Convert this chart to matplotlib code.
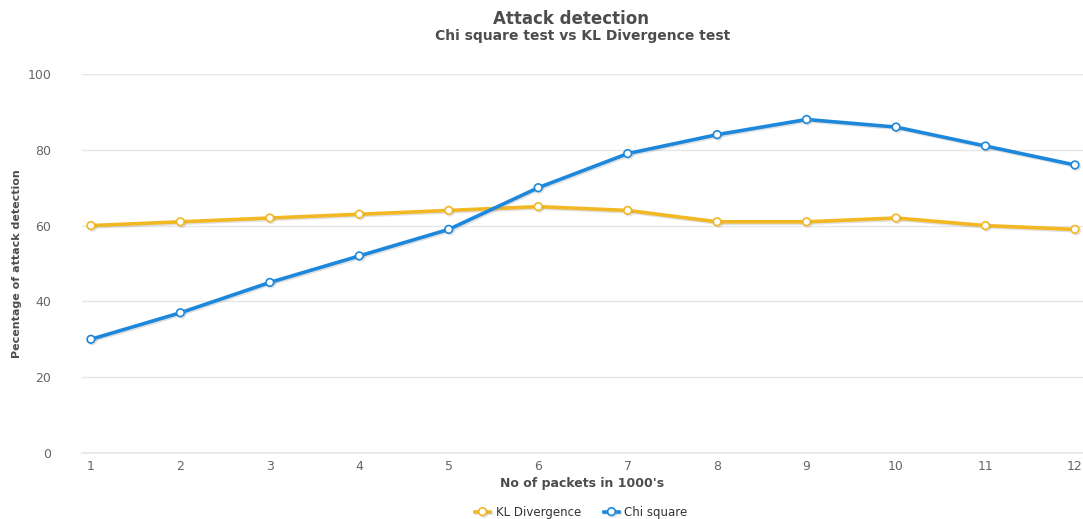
import matplotlib.pyplot as plt
import matplotlib.patheffects as pe

packets = [1, 2, 3, 4, 5, 6, 7, 8, 9, 10, 11, 12]
kl_divergence = [60, 61, 62, 63, 64, 65, 64, 61, 61, 62, 60, 59]
chi_square = [30, 37, 45, 52, 59, 70, 79, 84, 88, 86, 81, 76]
y_ticks = [0, 20, 40, 60, 80, 100]

kl_color = '#f2b824'
chi_color = '#1d88db'
text_color = '#4d4d4d'

fig = plt.figure(figsize=(10.83, 5.19), dpi=100)
ax = fig.add_axes([0.0757, 0.1272, 0.9243, 0.7302])

shadow = [pe.SimpleLineShadow(offset=(1, -1), shadow_color='#999999', alpha=0.3),
          pe.Normal()]

ax.plot(packets, kl_divergence, color=kl_color, lw=2.6, marker='o', ms=5.5,
        mfc='white', mec=kl_color, mew=1.2, label='KL Divergence',
        path_effects=shadow, zorder=3)
ax.plot(packets, chi_square, color=chi_color, lw=2.6, marker='o', ms=5.5,
        mfc='white', mec=chi_color, mew=1.2, label='Chi square',
        path_effects=shadow, zorder=4)

ax.set_xlim(0.9, 12.09)
ax.set_ylim(0, 100)
ax.set_yticks(y_ticks)
ax.set_xticks(packets)
ax.grid(axis='y', color='#e6e6e6', lw=1)
ax.axhline(0, color='#e6e6e6', lw=1.2, clip_on=False, zorder=0)
ax.set_axisbelow(True)
for s in ax.spines.values():
    s.set_visible(False)
ax.tick_params(length=0, labelsize=9, colors='#666666')
ax.tick_params(axis='y', pad=22)
ax.tick_params(axis='x', pad=5)

ax.set_ylabel('Pecentage of attack detection', fontsize=8, fontweight='bold',
              color=text_color, labelpad=4)
ax.set_xlabel("No of packets in 1000's", fontsize=9, fontweight='bold',
              color=text_color, labelpad=3)

fig.text(0.527, 0.963, 'Attack detection', ha='center', va='center',
         fontsize=12, fontweight='bold', color=text_color)
fig.text(0.538, 0.930, 'Chi square test vs KL Divergence test', ha='center',
         va='center', fontsize=10, fontweight='bold', color=text_color)

leg = fig.legend(loc='center', bbox_to_anchor=(0.537, 0.013), ncol=2,
                 frameon=False, fontsize=8.5, handlelength=1.2,
                 columnspacing=2.0, handletextpad=0.5)
for t in leg.get_texts():
    t.set_color('#333333')

fig.savefig('out.png', dpi=100)
